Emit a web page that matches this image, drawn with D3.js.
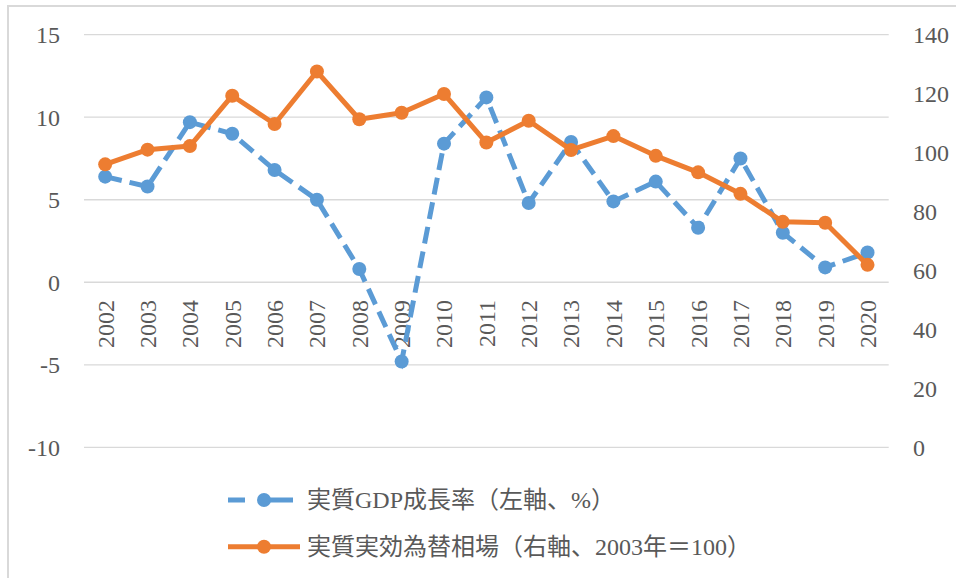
<!DOCTYPE html>
<html>
<head>
<meta charset="utf-8">
<script src="https://cdn.jsdelivr.net/npm/d3@7"></script>
<style>
  body { margin: 0; background: #fff; }
  text { font-family: "Liberation Serif", "Noto Sans CJK JP", serif; fill: #595959; }
</style>
</head>
<body>
<div id="chart"></div>
<script>
const years = ["2002","2003","2004","2005","2006","2007","2008","2009","2010","2011",
               "2012","2013","2014","2015","2016","2017","2018","2019","2020"];
const gdp  = [6.4, 5.8, 9.7, 9.0, 6.8, 5.0, 0.8, -4.8, 8.4, 11.2, 4.8, 8.5, 4.9, 6.1, 3.3, 7.5, 3.0, 0.9, 1.8];
const reer = [96.0, 101.0, 102.2, 119.3, 109.7, 127.5, 111.3, 113.5, 119.9, 103.4,
              110.8, 100.9, 105.6, 98.9, 93.3, 86.0, 76.5, 76.2, 61.9];
const leftTicks  = [15, 10, 5, 0, -5, -10];
const rightTicks = [140, 120, 100, 80, 60, 40, 20, 0];
const gdpName  = "実質GDP成長率（左軸、%）";
const reerName = "実質実効為替相場（右軸、2003年＝100）";

const W = 956, H = 578;
const blue = "#5B9BD5", orange = "#ED7D31";

const svg = d3.select("#chart")
  .append("svg")
    .attr("width", W)
    .attr("height", H);

// chart frame
svg.append("path")
  .attr("d", "M8,578 V6 H956")
  .attr("fill", "none")
  .attr("stroke", "#d9d9d9")
  .attr("stroke-width", 2);

const x = d3.scaleBand()
  .domain(years)
  .range([84, 888.7]);

const yL = d3.scaleLinear().domain([-10, 15]).range([447.3, 34.7]);
const yR = d3.scaleLinear().domain([0, 140]).range([447.3, 34.7]);

// gridlines
svg.append("g")
  .selectAll("line")
  .data(leftTicks)
  .join("line")
    .attr("x1", 84).attr("x2", 888.7)
    .attr("y1", d => yL(d)).attr("y2", d => yL(d))
    .attr("stroke", "#d9d9d9")
    .attr("stroke-width", 1.3);

// left axis labels
svg.append("g")
  .selectAll("text")
  .data(leftTicks)
  .join("text")
    .attr("x", 60)
    .attr("y", d => yL(d))
    .attr("dy", "0.35em")
    .attr("text-anchor", "end")
    .attr("font-size", 24)
    .text(d => d < 0 ? "-" + Math.abs(d) : d);

// right axis labels
svg.append("g")
  .selectAll("text")
  .data(rightTicks)
  .join("text")
    .attr("x", 913)
    .attr("y", d => yR(d))
    .attr("dy", "0.35em")
    .attr("text-anchor", "start")
    .attr("font-size", 24)
    .text(d => d);

// year labels, rotated
svg.append("g")
  .selectAll("text")
  .data(years)
  .join("text")
    .attr("transform", d => `translate(${x(d) + x.bandwidth() / 2},300) rotate(-90)`)
    .attr("dy", "0.35em")
    .attr("text-anchor", "end")
    .attr("font-size", 24)
    .text(d => d);

const cx = d => x(d) + x.bandwidth() / 2;

// GDP line (dashed)
const gdpData = years.map((d, i) => ({ year: d, value: gdp[i] }));
svg.append("path")
  .datum(gdpData)
  .attr("fill", "none")
  .attr("stroke", blue)
  .attr("stroke-width", 5)
  .attr("stroke-dasharray", "17,8")
  .attr("d", d3.line().x(d => cx(d.year)).y(d => yL(d.value)));

svg.append("g")
  .selectAll("circle")
  .data(gdpData)
  .join("circle")
    .attr("cx", d => cx(d.year))
    .attr("cy", d => yL(d.value))
    .attr("r", 7)
    .attr("fill", blue);

// REER line
const reerData = years.map((d, i) => ({ year: d, value: reer[i] }));
svg.append("path")
  .datum(reerData)
  .attr("fill", "none")
  .attr("stroke", orange)
  .attr("stroke-width", 5)
  .attr("stroke-linejoin", "round")
  .attr("d", d3.line().x(d => cx(d.year)).y(d => yR(d.value)));

svg.append("g")
  .selectAll("circle")
  .data(reerData)
  .join("circle")
    .attr("cx", d => cx(d.year))
    .attr("cy", d => yR(d.value))
    .attr("r", 7)
    .attr("fill", orange);

// legend
const legend = svg.append("g");
const rows = [
  { name: gdpName,  color: blue,   dash: "17,15,40", y: 500, x2: 293 },
  { name: reerName, color: orange, dash: null,       y: 546.7, x2: 300 }
];
rows.forEach(r => {
  legend.append("line")
    .attr("x1", 228).attr("x2", r.x2)
    .attr("y1", r.y).attr("y2", r.y)
    .attr("stroke", r.color)
    .attr("stroke-width", 5)
    .attr("stroke-dasharray", r.dash);
  legend.append("circle")
    .attr("cx", 264).attr("cy", r.y)
    .attr("r", 7)
    .attr("fill", r.color);
  legend.append("text")
    .attr("x", 307).attr("y", r.y)
    .attr("dy", "0.35em")
    .attr("font-size", 24)
    .text(r.name);
});
</script>
</body>
</html>
